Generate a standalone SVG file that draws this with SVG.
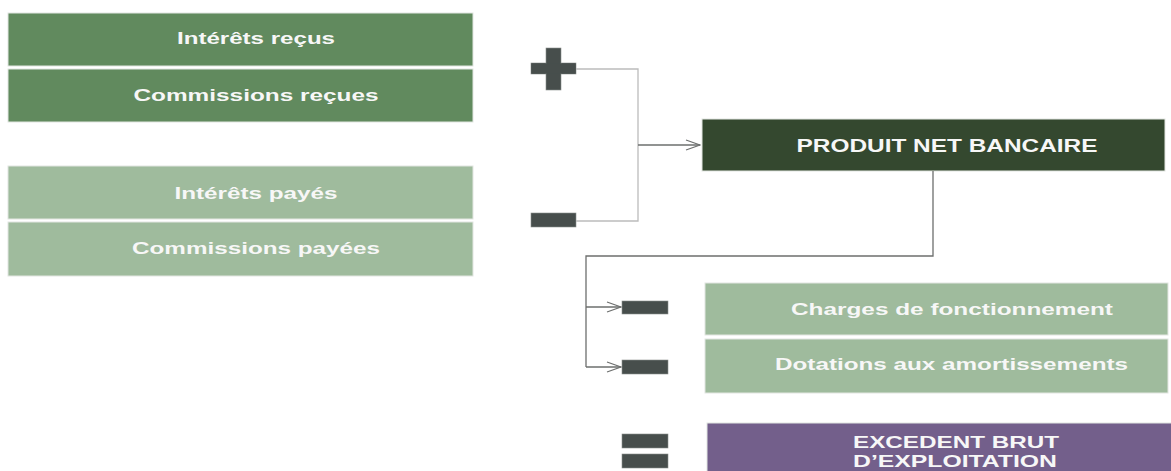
<svg xmlns="http://www.w3.org/2000/svg" width="1171" height="471" viewBox="0 0 1171 471">
  <defs>
    <style>
      .box { stroke: #e2e6e1; stroke-width: 1; }
      .recu { fill: #618a5e; }
      .paye { fill: #9fbb9d; }
      .pnb { fill: #34482f; }
      .ebe { fill: #735f8b; }
      .sign { fill: #474e4c; stroke: #8a8f8d; stroke-width: 0.6; }
      .lbl { font-family: "Liberation Sans", Arial, sans-serif; font-weight: bold; font-size: 16.5px; fill: #f7f7f7; text-anchor: middle; }
      .lbl-big { font-size: 17.5px; }
      .join { fill: none; stroke: #bcbcbc; stroke-width: 1.3; }
      .link { fill: none; stroke: #6d6f6e; stroke-width: 1.3; }
    </style>
    <marker id="chevron" viewBox="0 0 16 12" refX="15" refY="6" markerWidth="16" markerHeight="12" markerUnits="userSpaceOnUse" orient="auto">
      <path d="M1,1 L15,6 L1,11" fill="none" stroke="#6d6f6e" stroke-width="1.2"/>
    </marker>
  </defs>

  <rect width="1171" height="471" fill="#ffffff"/>

  <!-- revenue side -->
  <g id="interets-recus">
    <rect class="box recu" x="8" y="13" width="465" height="53"/>
    <text class="lbl" x="256" y="44" textLength="158" lengthAdjust="spacingAndGlyphs">Intérêts reçus</text>
  </g>
  <g id="commissions-recues">
    <rect class="box recu" x="8" y="69" width="465" height="53"/>
    <text class="lbl" x="256" y="101" textLength="245" lengthAdjust="spacingAndGlyphs">Commissions reçues</text>
  </g>

  <!-- expense side -->
  <g id="interets-payes">
    <rect class="box paye" x="8" y="166" width="465" height="53"/>
    <text class="lbl" x="256" y="199" textLength="163" lengthAdjust="spacingAndGlyphs">Intérêts payés</text>
  </g>
  <g id="commissions-payees">
    <rect class="box paye" x="8" y="222" width="465" height="54"/>
    <text class="lbl" x="256" y="254" textLength="248" lengthAdjust="spacingAndGlyphs">Commissions payées</text>
  </g>

  <!-- operator signs -->
  <g id="signe-plus">
    <rect class="sign" x="531" y="63" width="45" height="11"/>
    <rect class="sign" x="546" y="48" width="15" height="42"/>
    <rect x="531.5" y="63.5" width="44" height="10" fill="#474e4c"/>
  </g>
  <g id="signe-moins">
    <rect class="sign" x="531" y="213" width="45" height="14"/>
  </g>
  <g id="moins-charges">
    <rect class="sign" x="622" y="301" width="46" height="13"/>
  </g>
  <g id="moins-dotations">
    <rect class="sign" x="622" y="360" width="46" height="14"/>
  </g>
  <g id="signe-egal">
    <rect class="sign" x="622" y="434" width="46" height="14"/>
    <rect class="sign" x="622" y="454" width="46" height="14"/>
  </g>

  <!-- results -->
  <g id="produit-net-bancaire">
    <rect class="box pnb" x="702" y="119" width="463" height="52"/>
    <text class="lbl lbl-big" x="947" y="152" textLength="301" lengthAdjust="spacingAndGlyphs">PRODUIT NET BANCAIRE</text>
  </g>
  <g id="charges-fonctionnement">
    <rect class="box paye" x="705" y="283" width="463" height="52"/>
    <text class="lbl" x="952" y="315" textLength="322" lengthAdjust="spacingAndGlyphs">Charges de fonctionnement</text>
  </g>
  <g id="dotations-amortissements">
    <rect class="box paye" x="705" y="339" width="463" height="54"/>
    <text class="lbl" x="951.5" y="370" textLength="353" lengthAdjust="spacingAndGlyphs">Dotations aux amortissements</text>
  </g>
  <g id="excedent-brut">
    <rect class="box ebe" x="707" y="423" width="466" height="52"/>
    <text class="lbl" x="956" y="448" textLength="206" lengthAdjust="spacingAndGlyphs">EXCEDENT BRUT</text>
    <text class="lbl" x="955" y="467" textLength="204" lengthAdjust="spacingAndGlyphs">D’EXPLOITATION</text>
  </g>

  <!-- connectors -->
  <g id="connectors">
    <polyline class="join" points="576,69 638,69 638,221 576,221"/>
    <line class="link" x1="638" y1="145" x2="700" y2="145" marker-end="url(#chevron)"/>
    <polyline class="link" points="933,171 933,256 586,256 586,367"/>
    <line class="link" x1="586" y1="307" x2="621" y2="307" marker-end="url(#chevron)"/>
    <line class="link" x1="586" y1="367" x2="621" y2="367" marker-end="url(#chevron)"/>
  </g>
</svg>
